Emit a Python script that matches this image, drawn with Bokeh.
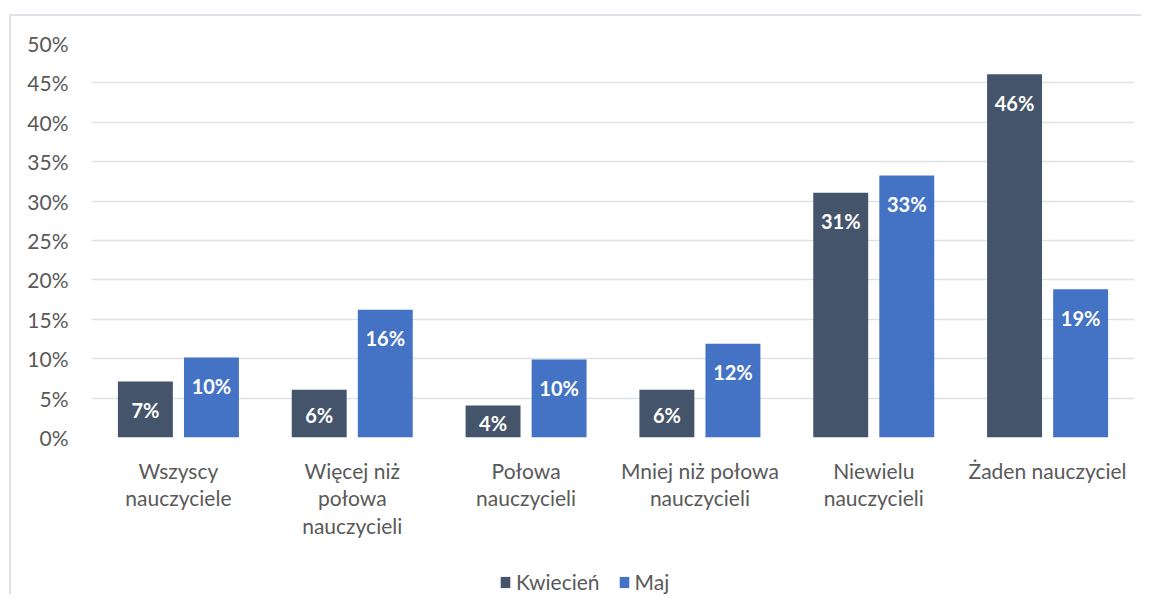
from bokeh.plotting import figure
from bokeh.models import ColumnDataSource, Range1d, FactorRange, Legend, LegendItem, FixedTicker
from bokeh.layouts import column
from bokeh.transform import dodge
from bokeh.core.properties import value
from bokeh.embed import file_html
from bokeh.resources import INLINE

categories = ["Wszyscy\nnauczyciele", "Więcej niż\npołowa\nnauczycieli", "Połowa\nnauczycieli",
              "Mniej niż połowa\nnauczycieli", "Niewielu\nnauczycieli", "Żaden nauczyciel"]
kwiecien = [7.1, 6.05, 4.05, 6.05, 31.05, 46.1]
maj = [10.15, 16.2, 9.9, 11.9, 33.25, 18.8]
kwiecien_labels = ["7%", "6%", "4%", "6%", "31%", "46%"]
maj_labels = ["10%", "16%", "10%", "12%", "33%", "19%"]
series_names = ["Kwiecień", "Maj"]
y_ticks = [0, 5, 10, 15, 20, 25, 30, 35, 40, 45, 50]

FONT = "Lato"
C_K = "#44546A"
C_M = "#4472C4"
GRID = "#dde1e8"

Y_MAX = 50
FRAME_H = 394
PX_PER_UNIT = FRAME_H / Y_MAX
W = 1141


def label_offset(v):
    return min(28.5, v * PX_PER_UNIT / 2 + 1)


src = ColumnDataSource(dict(cat=categories, k=kwiecien, m=maj, kl=kwiecien_labels, ml=maj_labels,
                            ko=[label_offset(v) for v in kwiecien], mo=[label_offset(v) for v in maj]))

p = figure(x_range=FactorRange(*categories, range_padding=0), y_range=Range1d(0, Y_MAX),
           width=W, height=560, output_backend="svg", toolbar_location=None,
           min_border_left=91, min_border_right=7, min_border_top=43, min_border_bottom=123)
p.outline_line_color = None
p.background_fill_color = "white"
p.border_fill_alpha = 0
p.styles = {
    "background-color": "white",
    "background-image": f"linear-gradient({GRID}, {GRID}), linear-gradient({GRID}, {GRID})",
    "background-size": "2px 100%, 100% 2px",
    "background-position": "9px 14px, 9px 14px",
    "background-repeat": "no-repeat",
}

rk = p.vbar(x=dodge("cat", -0.19, range=p.x_range), top="k", width=0.316, source=src,
            fill_color=C_K, line_color=None)
rm = p.vbar(x=dodge("cat", 0.19, range=p.x_range), top="m", width=0.316, source=src,
            fill_color=C_M, line_color=None)

p.text(x=dodge("cat", -0.19, range=p.x_range), y="k", text="kl", source=src, y_offset="ko",
       text_color="white", text_font=value(FONT), text_font_style="bold", text_font_size="20px",
       text_align="center", text_baseline="middle")
p.text(x=dodge("cat", 0.19, range=p.x_range), y="m", text="ml", source=src, y_offset="mo",
       text_color="white", text_font=value(FONT), text_font_style="bold", text_font_size="20px",
       text_align="center", text_baseline="middle")

p.xgrid.grid_line_color = None
p.ygrid.grid_line_color = GRID
p.ygrid.grid_line_width = 1.5
p.ygrid.level = "underlay"

p.yaxis.ticker = FixedTicker(ticks=y_ticks)
p.yaxis.major_label_overrides = {t: f"{t}%" for t in y_ticks}
p.yaxis.axis_line_color = None
p.yaxis.major_tick_line_color = None
p.yaxis.minor_tick_line_color = None
p.yaxis.major_label_text_font = FONT
p.yaxis.major_label_text_font_size = "21px"
p.yaxis.major_label_text_color = "#595959"
p.yaxis.major_label_standoff = 17

p.xaxis.axis_line_color = None
p.xaxis.major_tick_line_color = None
p.xaxis.major_label_text_font = FONT
p.xaxis.major_label_text_font_size = "21px"
p.xaxis.major_label_text_color = "#595959"
p.xaxis.major_label_text_line_height = 1.11
p.xaxis.major_label_standoff = 14

# legend strip below the chart (its frame is aligned with the chart's frame by the column)
p2 = figure(x_range=Range1d(0, 1), y_range=Range1d(0, 1), width=W, height=34,
            output_backend="svg", toolbar_location=None,
            min_border_left=0, min_border_right=0, min_border_top=0, min_border_bottom=0)
p2.axis.visible = False
p2.grid.visible = False
p2.outline_line_color = None
p2.background_fill_alpha = 0
p2.border_fill_alpha = 0
p2.styles = {
    "background-color": "white",
    "background-image": f"linear-gradient({GRID}, {GRID})",
    "background-size": "2px 100%",
    "background-position": "9px 0px",
    "background-repeat": "no-repeat",
}
# zero-height legend proxies (draw nothing in the strip itself)
lk = p2.vbar(x=[0.5], top=[0], width=0.1, fill_color=C_K, line_color=None)
lm = p2.vbar(x=[0.5], top=[0], width=0.1, fill_color=C_M, line_color=None)
legend = Legend(items=[LegendItem(label=series_names[0], renderers=[lk]),
                       LegendItem(label=series_names[1], renderers=[lm])],
                orientation="horizontal", location=(408, 0), padding=0, margin=0,
                spacing=18, label_standoff=5, glyph_width=12, glyph_height=14,
                border_line_color=None, background_fill_alpha=0,
                label_text_font=FONT, label_text_font_size="21px", label_text_color="#595959")
p2.add_layout(legend, "center")

layout = column(p, p2, spacing=0)
open("out.html", "w").write(file_html(layout, INLINE))
